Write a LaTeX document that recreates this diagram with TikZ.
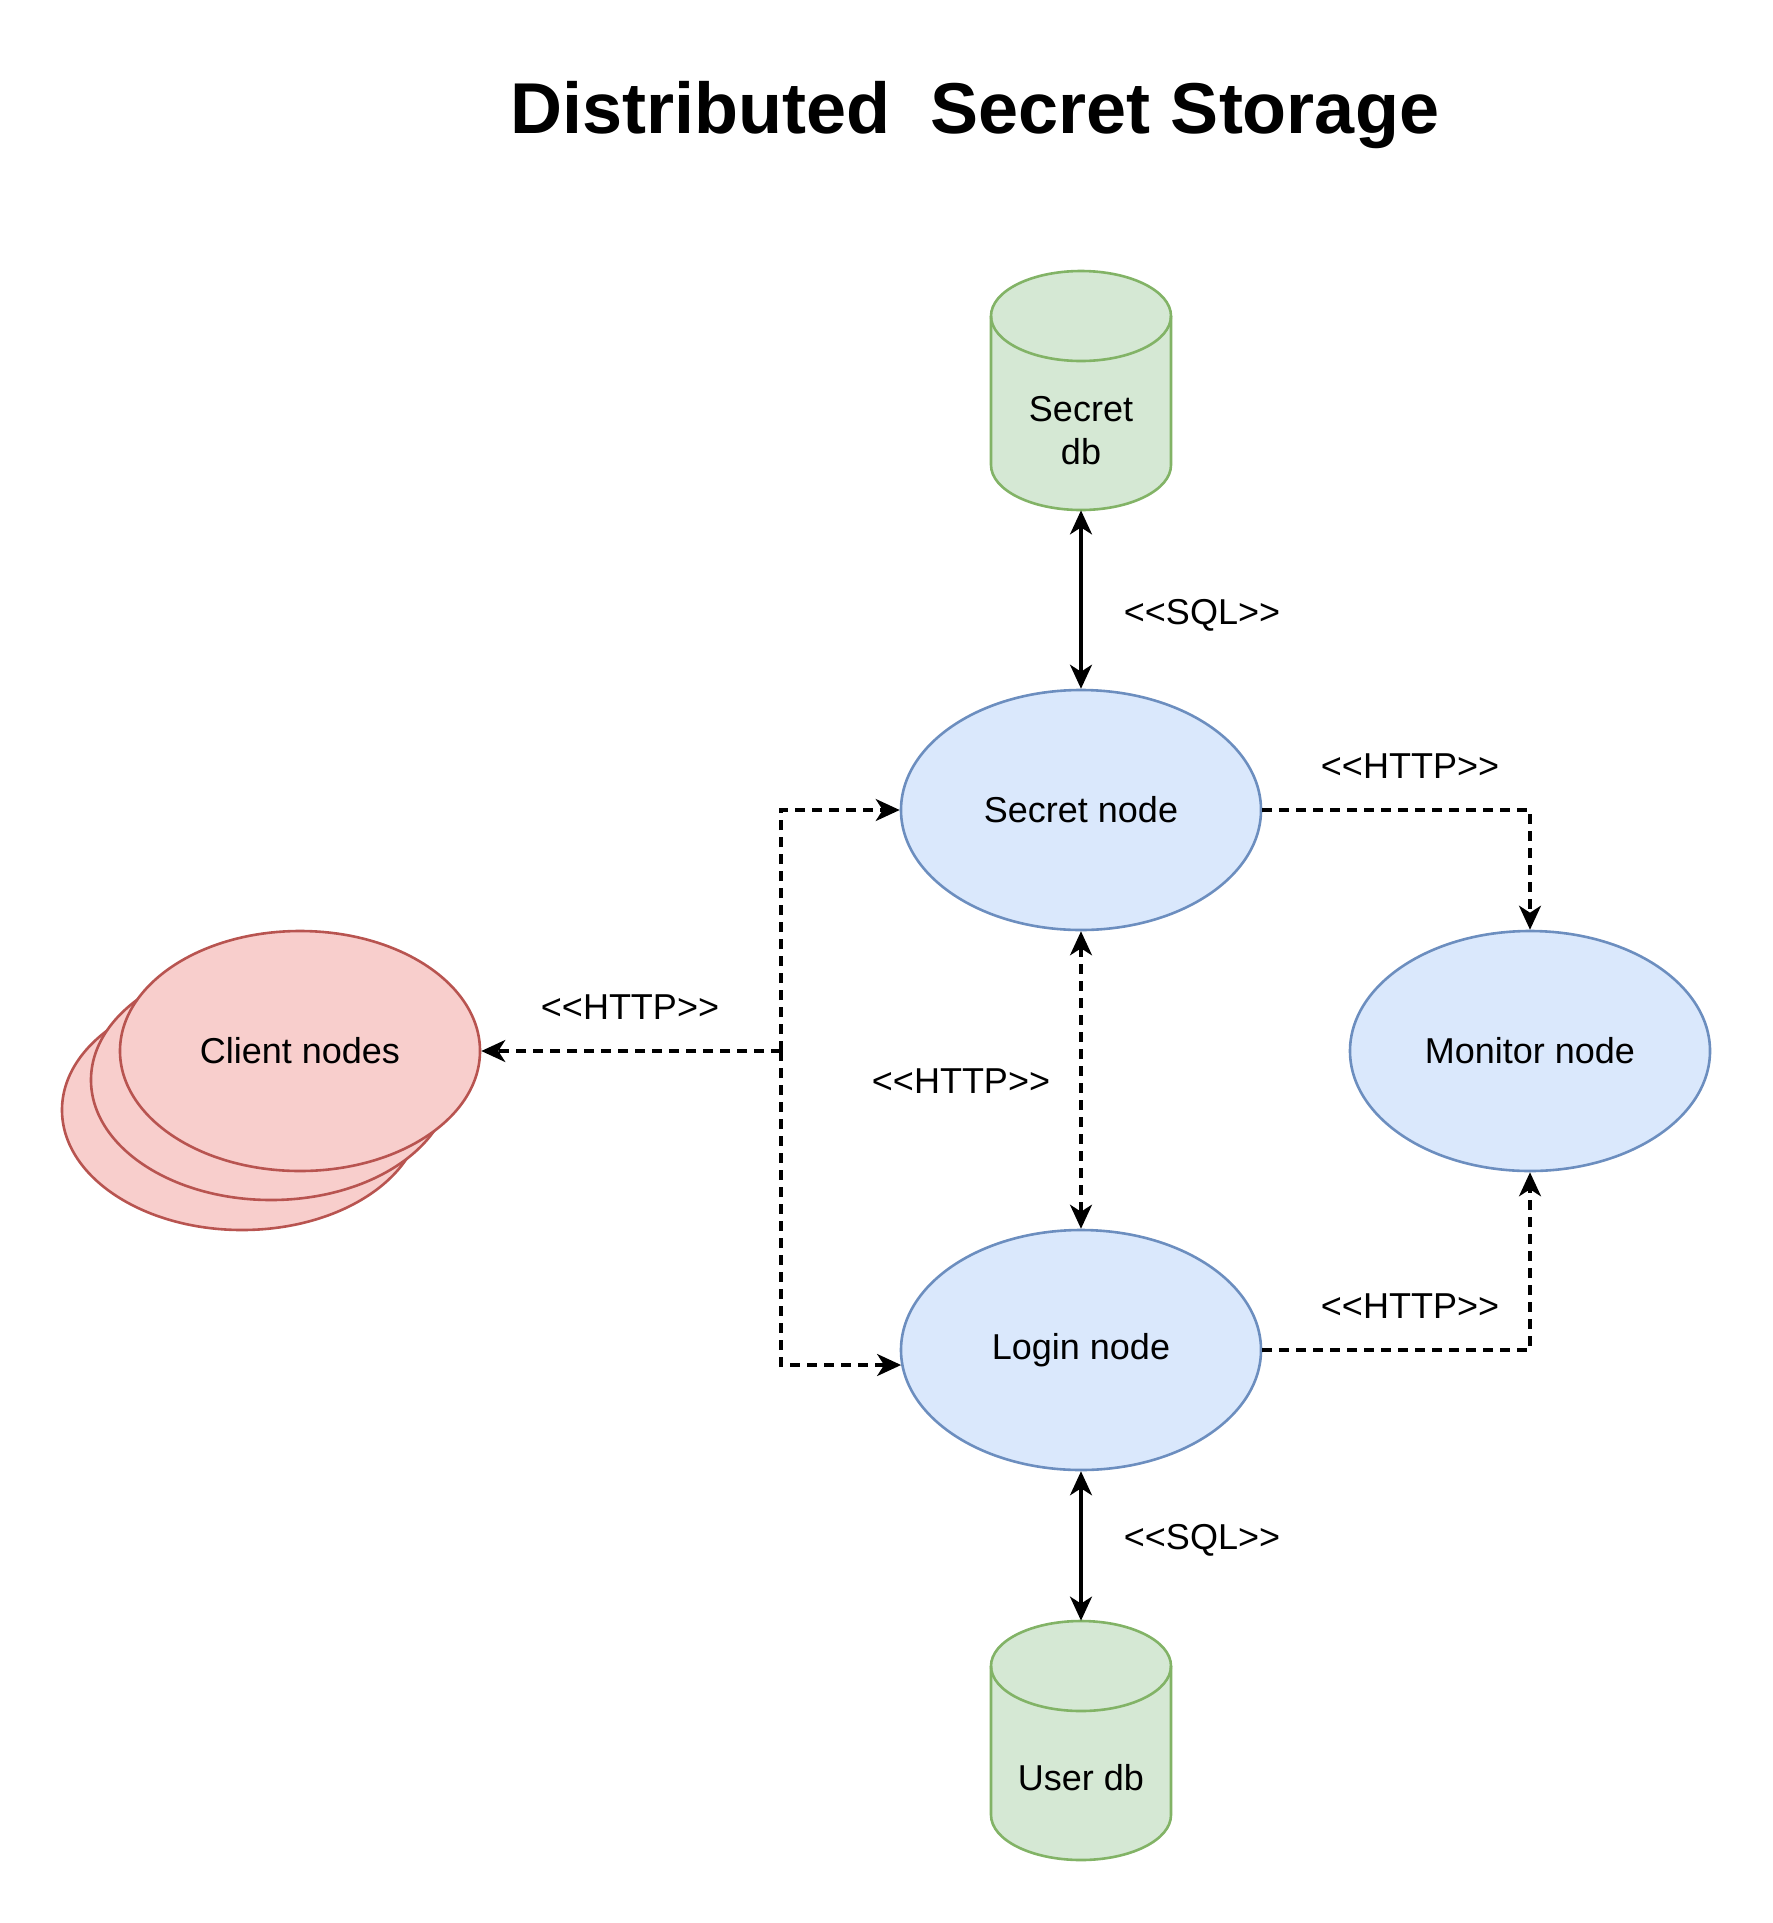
\documentclass[tikz,border=0pt]{standalone}
\usepackage{fontspec}
\setmainfont{Liberation Sans}
\usetikzlibrary{shapes.geometric,arrows.meta}
\definecolor{bluefill}{HTML}{DAE8FC}
\definecolor{bluedraw}{HTML}{6C8EBF}
\definecolor{greenfill}{HTML}{D5E8D4}
\definecolor{greendraw}{HTML}{82B366}
\definecolor{redfill}{HTML}{F8CECC}
\definecolor{reddraw}{HTML}{B85450}
\tikzset{
  txt/.style={font=\fontsize{18}{21.5}\selectfont, inner sep=0pt, align=center},
  bluenode/.style={ellipse, draw=bluedraw, fill=bluefill, line width=1.3pt, minimum width=180pt, minimum height=120pt, inner sep=0pt, txt},
  rednode/.style={ellipse, draw=reddraw, fill=redfill, line width=1.3pt, minimum width=180pt, minimum height=120pt, inner sep=0pt, txt},
  dbbox/.style={rectangle, minimum width=90pt, minimum height=119.5pt, inner sep=0pt},
  cyl/.style={draw=greendraw, fill=greenfill, line width=1.3pt},
  conn/.style={line width=1.6pt, >={Stealth[length=12pt,width=11pt,inset=3.5pt]}},
  dashconn/.style={conn, dash pattern=on 5pt off 3.5pt},
  lbl/.style={txt}
}
\begin{document}
\begin{tikzpicture}[x=1pt,y=1pt]
\useasboundingbox (0,0) rectangle (886.5,-961.5);
% title
\node[font=\fontsize{36}{43}\selectfont\bfseries, inner sep=0pt] (title) at (487.5,-57.5) {Distributed\ \ Secret Storage};
% secret db
\path[cyl] (495.5,-158) -- (495.5,-232.5) arc[start angle=180,end angle=360,x radius=45,y radius=22.5] -- (585.5,-158) arc[start angle=0,end angle=180,x radius=45,y radius=22.5] -- cycle;
\draw[draw=greendraw, line width=1.3pt] (495.5,-158) arc[start angle=180,end angle=360,x radius=45,y radius=22.5];
\node[dbbox] (sdb) at (540.5,-195.25) {};
\node[txt] (sdbtxt) at (540.5,-215.5) {Secret\\db};
% user db
\path[cyl] (495.5,-833) -- (495.5,-907.5) arc[start angle=180,end angle=360,x radius=45,y radius=22.5] -- (585.5,-833) arc[start angle=0,end angle=180,x radius=45,y radius=22.5] -- cycle;
\draw[draw=greendraw, line width=1.3pt] (495.5,-833) arc[start angle=180,end angle=360,x radius=45,y radius=22.5];
\node[dbbox] (udb) at (540.5,-870.25) {};
\node[txt] (udbtxt) at (540.5,-889) {User db};
% nodes
\node[bluenode] (snode) at (540.5,-405) {Secret node};
\node[bluenode] (mon) at (765,-525.5) {Monitor node};
\node[bluenode] (lnode) at (540.5,-675) {Login node};
\node[rednode] (cback) at (121,-555) {};
\node[rednode] (cmid) at (135.5,-540) {};
\node[rednode] (client) at (150,-525.5) {Client nodes};
% connectors
\draw[conn,<->] (sdb.south) -- (snode.north);
\draw[conn,<->] (lnode.south) -- (udb.north);
\draw[dashconn,<->] (snode.south) -- (lnode.north);
\draw[dashconn,->] (snode.east) -| (mon.north);
\draw[dashconn,->] (lnode.east) -| (mon.south);
\coordinate (j) at (390.5,-525.5);
\coordinate (jl) at (390.5,-682.5);
\draw[dashconn,->] (j) |- (snode.west);
\draw[dashconn,->] (j) -- (jl) -- ([xshift=0.7pt]lnode.west |- jl);
\draw[dashconn,->] (j) -- (client.east);
% labels
\node[lbl] (l1) at (601,-307.5) {{<}{<}SQL{>}{>}};
\node[lbl] (l2) at (705,-383) {{<}{<}HTTP{>}{>}};
\node[lbl] (l3) at (480.5,-540.5) {{<}{<}HTTP{>}{>}};
\node[lbl] (l4) at (705,-653) {{<}{<}HTTP{>}{>}};
\node[lbl] (l5) at (601,-770) {{<}{<}SQL{>}{>}};
\node[lbl] (l6) at (315,-503.5) {{<}{<}HTTP{>}{>}};
\end{tikzpicture}
\end{document}
